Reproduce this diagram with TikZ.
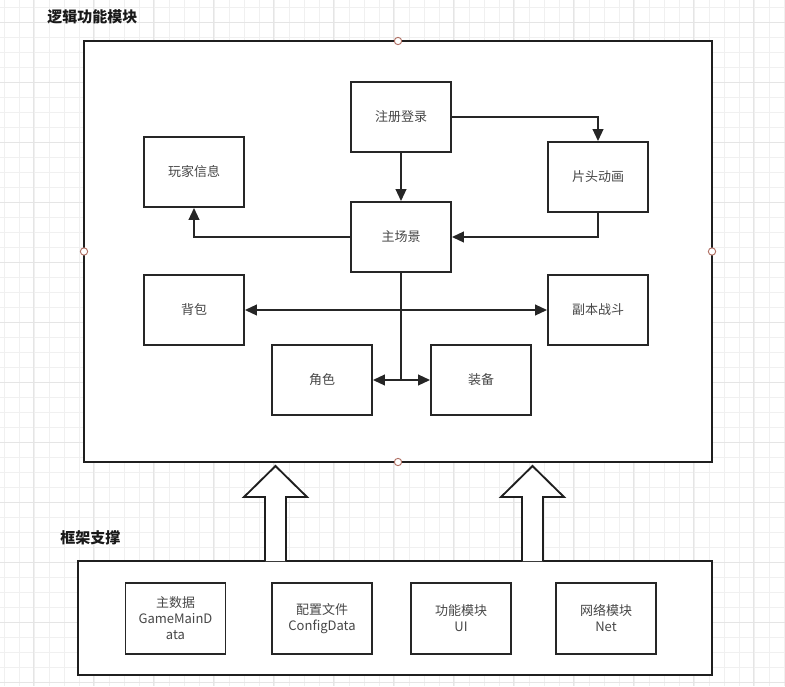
\documentclass[tikz,border=0pt]{standalone}
\usepackage{fontspec}
\setmainfont{Noto Sans CJK SC}
\usetikzlibrary{arrows.meta}
\definecolor{handlec}{RGB}{176,112,100}
\begin{document}
\begin{tikzpicture}[x=0.75pt,y=-0.75pt,
  gridminor/.style={draw=black!6,line width=0.6pt},
  gridmajor/.style={draw=black!10,line width=0.7pt},
  frame/.style={draw=black!88,line width=1.5pt,fill=white,inner sep=0pt},
  box/.style={draw=black!85,line width=1.4pt,fill=white,minimum width=75pt,minimum height=52.5pt,inner sep=0pt,text=black!72,font=\fontsize{9.75pt}{12pt}\selectfont,align=center},
  conn/.style={draw=black!85,line width=1.5pt,-{Triangle[length=9pt,width=8pt]}},
  both/.style={draw=black!85,line width=1.5pt,{Triangle[length=9pt,width=8pt]}-{Triangle[length=9pt,width=8pt]}},
  plain/.style={draw=black!85,line width=1.5pt},
  handle/.style={draw=handlec,fill=white,line width=0.7pt,circle,inner sep=0pt,minimum size=5.5pt},
  blockarrow/.style={draw=black!88,fill=white,line width=1.4pt,line join=miter},
  title/.style={font=\fontsize{11.25pt}{13pt}\selectfont\bfseries,text=black!90,inner sep=0pt,anchor=west}]
\useasboundingbox (0,0) rectangle (785,686);
\fill[white] (0,0) rectangle (785,686);
% grid
\foreach \x in {4,19,...,784} \draw[gridminor] (\x,0) -- (\x,686);
\foreach \y in {7,22,...,685} \draw[gridminor] (0,\y) -- (785,\y);
\foreach \x in {33,93,...,784} \draw[gridmajor] (\x,0) -- (\x,686);
\foreach \y in {22,82,...,685} \draw[gridmajor] (0,\y) -- (785,\y);
% titles
\node[title] (t1) at (47,17) {逻辑功能模块};
\node[title] (t2) at (60,538) {框架支撑};
% frames
\node[frame,minimum width=471pt,minimum height=315.75pt] (logic) at (398,251.5) {};
\node[frame,minimum width=475.5pt,minimum height=85.5pt] (base) at (395,618) {};
% block arrows
\draw[blockarrow] (265,561) -- (265,497) -- (244,497) -- (275.5,466) -- (307,497) -- (286,497) -- (286,561);
\draw[blockarrow] (522,561) -- (522,497) -- (501,497) -- (532.5,466) -- (564,497) -- (543,497) -- (543,561);
% handles
\foreach \p/\n in {{(398,41)}/h1,{(84,251.5)}/h2,{(712,251.5)}/h3,{(398,462)}/h4}
  \node[handle] (\n) at \p {};
% logic nodes
\node[box] (reg) at (401,117) {注册登录};
\node[box] (anim) at (598,177) {片头动画};
\node[box] (scene) at (401,237) {主场景};
\node[box] (player) at (194,172) {玩家信息};
\node[box] (bag) at (194,310) {背包};
\node[box] (fight) at (598,310) {副本战斗};
\node[box] (role) at (322,380) {角色};
\node[box] (equip) at (481,380) {装备};
% base nodes
\node[box,minimum height=53.25pt] (d1) at (175.5,618.5) {主数据\\GameMainD\\ata};
\node[box,minimum height=53.25pt] (d2) at (322,618.5) {配置文件\\ConfigData};
\node[box,minimum height=53.25pt] (d3) at (461,618.5) {功能模块\\UI};
\node[box,minimum height=53.25pt] (d4) at (606,618.5) {网络模块\\Net};
% connectors
\coordinate (j2) at (scene.south |- role.east);
\draw[conn] (reg.east) -| (anim.north);
\draw[conn] (reg.south) -- (scene.north);
\draw[conn] (anim.south) |- (scene.east);
\draw[conn] (scene.west) -| (player.south);
\draw[plain] (scene.south) -- (j2);
\draw[both] (bag.east) -- (fight.west);
\draw[both] (role.east) -- (equip.west);
\end{tikzpicture}
\end{document}
